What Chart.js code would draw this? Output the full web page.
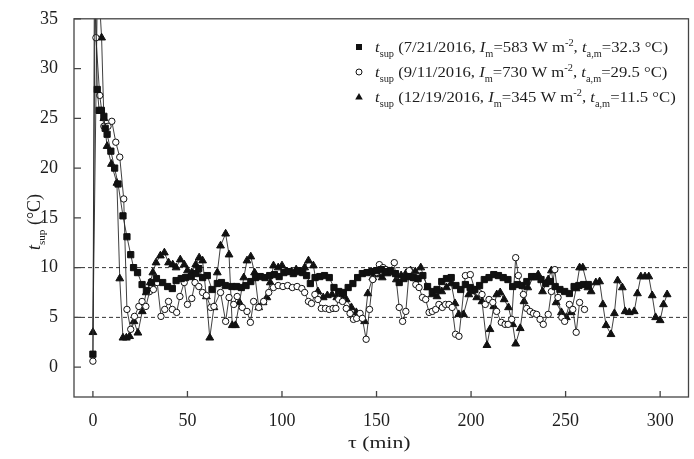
<!DOCTYPE html>
<html>
<head>
<meta charset="utf-8">
<script src="https://cdn.jsdelivr.net/npm/chart.js@4/dist/chart.umd.min.js"></script>
<style>
    html, body { margin: 0; padding: 0; background: #fff; }
</style>
</head>
<body>
<canvas id="supChart" width="694" height="459"></canvas>
<script>
// axis ticks and reference levels
const xTicks = [0, 50, 100, 150, 200, 250, 300];
const yTicks = [0, 5, 10, 15, 20, 25, 30, 35];
const refLevels = [5, 10];

// 7/21/2016 (squares)
const tauSq = [0,1.2,2.3,3.3,4.5,5.8,6.5,7.5,9.5,11.5,13.3,15.9,18,20,21.5,23.6,26,28.3,31,33.6,
    36.9,39.5,42,44,46.7,49,52,54.6,56,58,60.5,63,65.8,68,70,73.5,76,78.5,81,83.5,
    86,88.5,91,93.5,96,98.5,101,103.5,106,108.5,111,113,115,117.5,120,122.5,125,127.5,130,132.5,
    135,137.5,140,142.5,145,147.5,150,152.5,155,157.5,160,162,164.5,167,169.5,172,174.5,177,179.5,182,
    184.5,187,189.5,192,194.5,197,199.5,202,204.5,207,209.5,212,214.5,217,219.5,222,224.5,227,229.5,232,
    234.5,237,239.5,242,244.5,247,249.5,252,254.5,257,259.5,262];
const supSq = [1.3,40,27.9,25.8,25.8,25.2,24.0,23.4,21.7,20.0,18.4,15.2,13.1,11.3,10.0,9.5,8.3,7.7,8.5,8.9,
    8.5,8.1,7.9,8.7,8.9,9.0,9.1,9.4,9.9,9.0,9.2,7.8,8.4,8.5,8.2,8.1,8.1,8.0,8.2,8.6,
    9.0,9.1,9.0,9.2,9.3,9.1,9.5,9.6,9.4,9.7,9.5,9.2,8.4,9.0,9.1,9.2,9.0,8.0,7.6,7.5,
    8.0,8.4,9.0,9.4,9.5,9.6,9.7,9.8,9.6,9.7,9.4,8.5,8.9,9.1,9.0,8.9,9.2,8.1,7.6,7.8,
    8.6,8.9,9.0,8.2,7.8,8.3,8.0,7.8,8.2,8.8,9.0,9.3,9.2,9.0,8.8,8.1,8.3,8.2,8.6,9.1,
    9.1,8.8,8.4,8.6,8.1,7.8,7.6,7.4,8.1,8.2,8.3,8.3];

// 9/11/2016 (open circles)
const tauCi = [0,0.8,1.6,3.6,5.8,8,10,12.1,14.2,16.3,18,20,22,24.3,26,28,30,32,34,36,
    38,40,42,44.3,46,48.3,50,52.3,54,56,58,60,62.3,64,67.5,70.2,72,74.5,76.3,79,
    81.5,83.3,85,87.7,90.3,93,95.5,98,100.5,103,105.5,108,110.5,112,114,115.6,117.4,119,120.8,123,
    125,127,128.5,130,132,134,136,137.8,139.5,141.3,142.5,144.5,146.3,148,150,151.5,153.5,155,156.8,159.4,
    162,163.8,165.5,167.3,169,170.8,172.5,174.3,176,177.8,179.5,181.3,183,184.8,186.5,188.3,190,191.8,193.6,197,
    199.6,202,204,205.8,207.5,209.5,211.5,213.5,216,218,219.6,221.5,223.6,225,227.7,229.4,231.2,233,234.7,236.5,
    238.2,240.8,242.5,244.3,246,248,249.5,252,253.8,255.6,257.4,260];
const supCi = [0.6,40,33.1,27.3,24.2,24.2,24.7,22.6,21.1,16.9,5.8,3.8,5.1,6.1,6.6,6.1,7.6,7.8,8.5,5.1,
    5.8,6.6,5.8,5.5,7.1,8.5,6.3,6.9,8.5,8.1,7.5,7.2,6.0,6.1,7.5,4.6,7.0,6.3,7.1,6.0,
    5.6,4.5,6.6,6.0,6.6,7.5,8.0,8.2,8.1,8.2,8.0,8.1,7.9,7.5,6.6,6.4,7.3,6.8,5.9,5.9,
    5.8,5.9,5.9,6.8,6.6,5.9,5.4,4.8,4.9,5.4,4.9,2.8,5.8,8.8,9.5,10.3,10.0,9.8,9.7,10.5,
    6.0,4.6,5.6,9.7,9.0,8.3,8.0,7.0,6.8,5.5,5.6,5.8,6.3,6.0,6.3,6.3,6.0,3.3,3.1,9.2,
    9.3,7.8,7.5,7.3,6.3,6.8,6.5,5.6,4.5,4.3,4.3,4.8,11.0,9.2,7.3,5.9,5.6,5.4,5.3,4.8,
    4.3,5.3,7.6,9.8,7.0,5.0,4.6,6.3,5.8,3.5,6.5,5.8];

// 12/19/2016 (triangles)
const tauTr = [0,2.5,4.6,5.8,7.5,9.8,12.7,14.2,15.9,17.7,19.4,21.7,23.8,26.1,28.2,30.3,31.7,33.4,35.7,37.8,
    40,42.2,44,46.2,48.3,50,52.3,54.4,56.2,58,60,61.8,64,65.8,67.5,70.2,72,73.7,75.4,77.5,
    79.8,81.5,83.5,85.5,87.7,90,92,93.8,95.5,98,100,102.5,105,107.5,110,112,114,116.6,119,121.8,
    124,126.5,129,131.5,134,136.7,139.3,142,143.7,145.4,148,150.7,153,155.5,158,160.5,163,165.5,168,170.5,
    173.4,177,179.5,182,184.5,187,189.5,191.5,193.5,196,198.8,200.5,203,205.8,208.4,210,212,213.6,215.4,217.5,
    219.8,222,223.6,226,228,230,232.9,235.5,237.8,240.8,242.5,245,247.8,250.4,253,255.6,257.4,259.1,261.8,263.5,
    266,268,269.7,271.4,274,275.8,277.5,280,281.5,283.7,286.3,288,289.8,292,294,295.8,297.6,300,301.8,303.7];
const supTr = [3.5,40,33.1,25.0,22.2,20.4,18.5,8.9,2.95,2.95,3.1,4.6,3.45,5.6,7.5,8.5,9.5,10.5,11.2,11.5,
    10.5,10.3,10.0,10.8,10.3,9.7,9.5,10.3,11.0,10.7,7.1,2.95,6.0,9.5,12.2,13.4,11.3,4.2,4.2,6.5,
    9.0,10.7,11.1,9.5,6.0,6.5,7.0,8.5,10.2,10.0,10.2,9.6,9.6,9.8,9.5,10.0,10.7,10.2,7.6,7.0,
    7.2,7.3,7.0,7.2,6.8,6.0,5.5,5.0,4.6,7.4,9.0,9.3,9.0,9.4,9.5,8.8,9.2,9.4,9.7,9.6,
    10.0,8.0,7.3,7.1,7.6,8.0,8.4,6.4,5.3,5.3,7.3,7.6,7.0,6.6,2.2,3.8,6.1,7.3,7.5,6.8,
    6.0,4.3,2.35,3.9,6.6,8.0,9.0,9.3,7.6,8.8,9.7,6.5,5.5,5.0,5.5,7.9,10.0,10.0,8.0,7.6,
    8.5,8.6,6.3,4.2,3.3,5.4,8.7,8.0,5.6,5.5,5.6,7.4,9.1,9.1,9.1,7.2,5.0,4.7,6.3,7.3];

// legend texts
const legendDates = ['7/21/2016', '9/11/2016', '12/19/2016'];
const legendIm = ['583', '730', '345'];
const legendTam = ['32.3', '29.5', '11.5'];
const legendMarks = ['square', 'circle', 'triangle'];

var ink = '#1e1e1e';
var serif = '"Liberation Serif", "Times New Roman", serif';
var X_MIN = -10, X_MAX = 315, Y_MIN = -3, Y_MAX = 35;

function pts(xs, ys) {
    return xs.map(function (x, i) { return { x: x, y: ys[i] }; });
}

function seriesStyle(style, fill, radius) {
    return {
        showLine: true,
        borderColor: '#2a2a2a',
        borderWidth: 0.9,
        pointStyle: style,
        pointRadius: radius,
        pointBackgroundColor: fill,
        pointBorderColor: '#111',
        pointBorderWidth: 1,
        pointHoverRadius: radius
    };
}

// draws text made of italic / sub / sup runs, returns its width
function drawRich(ctx, parts, x, y, size, sx, draw) {
    ctx.save();
    ctx.translate(x, y);
    ctx.scale(sx, 1);
    ctx.fillStyle = ink;
    ctx.textBaseline = 'alphabetic';
    ctx.textAlign = 'left';
    var cx = 0;
    parts.forEach(function (p) {
        var fs = (p.s === 'sub' || p.s === 'sup') ? size * 0.62 : size;
        ctx.font = (p.i ? 'italic ' : '') + fs + 'px ' + serif;
        var dy = p.s === 'sub' ? size * 0.3 : (p.s === 'sup' ? -size * 0.42 : 0);
        if (draw) ctx.fillText(p.t, cx, dy);
        cx += ctx.measureText(p.t).width;
    });
    ctx.restore();
    return cx * sx;
}

function legendParts(k) {
    return [
        { t: 't', i: 1 }, { t: 'sup', s: 'sub' },
        { t: ' (' + legendDates[k] + ', ' },
        { t: 'I', i: 1 }, { t: 'm', s: 'sub' },
        { t: '=' + legendIm[k] + ' W m' }, { t: '-2', s: 'sup' },
        { t: ', ' },
        { t: 't', i: 1 }, { t: 'a,m', s: 'sub' },
        { t: '=' + legendTam[k] + ' \u00B0C)' }
    ];
}

function drawMark(ctx, kind, x, y) {
    ctx.save();
    ctx.fillStyle = '#111';
    ctx.strokeStyle = '#111';
    ctx.lineWidth = 1;
    ctx.beginPath();
    if (kind === 'square') {
        ctx.rect(x - 3, y - 3, 6, 6);
        ctx.fill();
    } else if (kind === 'circle') {
        ctx.arc(x, y, 3, 0, Math.PI * 2);
        ctx.fillStyle = '#fff';
        ctx.fill();
        ctx.stroke();
    } else {
        ctx.moveTo(x, y - 4);
        ctx.lineTo(x + 3.8, y + 2.6);
        ctx.lineTo(x - 3.8, y + 2.6);
        ctx.closePath();
        ctx.fill();
    }
    ctx.restore();
}

const framePlugin = {
    id: 'framePlugin',
    afterDraw(chart) {
        var ctx = chart.ctx;
        var a = chart.chartArea;
        var xs = chart.scales.x, ys = chart.scales.y;

        // box and inward ticks
        ctx.save();
        ctx.strokeStyle = '#444';
        ctx.lineWidth = 1.3;
        ctx.strokeRect(a.left, a.top, a.right - a.left, a.bottom - a.top);
        ctx.beginPath();
        xTicks.forEach(function (v) {
            var px = xs.getPixelForValue(v);
            ctx.moveTo(px, a.bottom);
            ctx.lineTo(px, a.bottom - 6);
        });
        yTicks.forEach(function (v) {
            var py = ys.getPixelForValue(v);
            ctx.moveTo(a.left, py);
            ctx.lineTo(a.left + 7, py);
        });
        ctx.stroke();
        ctx.restore();

        // legend
        var size = 15;
        var natural = drawRich(ctx, legendParts(0), 0, 0, size, 1, false);
        var sx = 293 / natural;
        var rowY = [47, 72, 97];
        for (var k = 0; k < 3; k++) {
            drawMark(ctx, legendMarks[k], 359, rowY[k]);
            drawRich(ctx, legendParts(k), 375, rowY[k] + 5, size, sx, true);
        }

        // x title
        ctx.save();
        ctx.fillStyle = ink;
        ctx.font = '17px ' + serif;
        ctx.textAlign = 'center';
        ctx.textBaseline = 'alphabetic';
        ctx.translate((a.left + a.right) / 2 - 2, 448);
        ctx.scale(1.28, 1);
        ctx.fillText('\u03C4 (min)', 0, 0);
        ctx.restore();

        // y title
        var yParts = [{ t: 't', i: 1 }, { t: 'sup', s: 'sub' }, { t: ' (\u00B0C)' }];
        var w = drawRich(ctx, yParts, 0, 0, 18, 1, false);
        ctx.save();
        ctx.translate(40, 222);
        ctx.rotate(-Math.PI / 2);
        drawRich(ctx, yParts, -w / 2, 0, 18, 1, true);
        ctx.restore();
    }
};

var datasets = [
    Object.assign({ label: 'sq', data: pts(tauSq, supSq) }, seriesStyle('rect', '#111', 4.4)),
    Object.assign({ label: 'ci', data: pts(tauCi, supCi) }, seriesStyle('circle', '#fff', 3.2)),
    Object.assign({ label: 'tr', data: pts(tauTr, supTr) }, seriesStyle('triangle', '#111', 4.5))
];
refLevels.forEach(function (lv) {
    datasets.push({
        label: 'ref' + lv,
        data: [{ x: X_MIN, y: lv }, { x: X_MAX, y: lv }],
        showLine: true,
        borderColor: '#333',
        borderWidth: 1,
        borderDash: [4, 3],
        pointRadius: 0,
        pointHoverRadius: 0
    });
});

var ctx = document.getElementById('supChart').getContext('2d');
var chart = new Chart(ctx, {
    type: 'scatter',
    data: { datasets: datasets },
    options: {
        responsive: false,
        animation: false,
        layout: { padding: { top: 18, right: 1, left: 0, bottom: 0 } },
        plugins: {
            legend: { display: false },
            tooltip: { enabled: false }
        },
        scales: {
            x: {
                type: 'linear',
                min: X_MIN,
                max: X_MAX,
                grid: { display: false },
                border: { display: false },
                afterBuildTicks: function (scale) {
                    scale.ticks = xTicks.map(function (v) { return { value: v }; });
                },
                afterFit: function (scale) { scale.height = 62; },
                ticks: {
                    color: ink,
                    padding: 5,
                    maxRotation: 0,
                    font: { family: serif, size: 18 }
                }
            },
            y: {
                type: 'linear',
                min: Y_MIN,
                max: Y_MAX,
                grid: { display: false },
                border: { display: false },
                afterBuildTicks: function (scale) {
                    scale.ticks = yTicks.map(function (v) { return { value: v }; });
                },
                afterFit: function (scale) { scale.width = 74; },
                ticks: {
                    color: ink,
                    padding: 8,
                    font: { family: serif, size: 18 }
                }
            }
        }
    },
    plugins: [framePlugin]
});
</script>
</body>
</html>
